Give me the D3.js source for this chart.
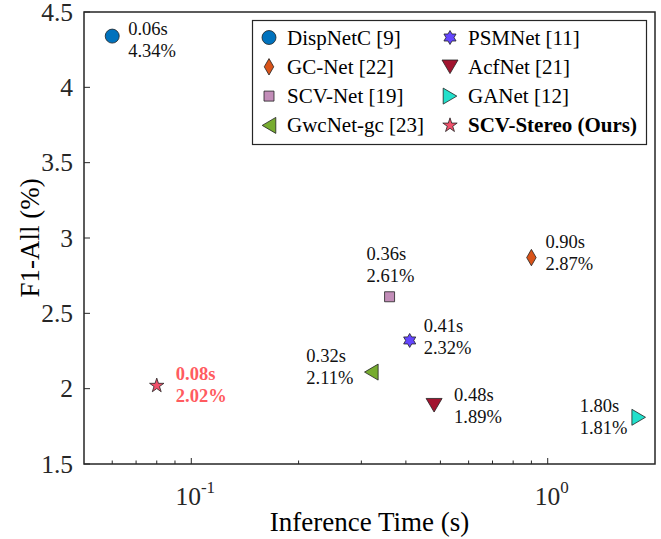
<!DOCTYPE html>
<html lang="en">
<head>
    <meta charset="UTF-8">
    <title>F1-All vs Inference Time</title>
    <style>
        body {
            margin: 0;
            padding: 0;
            background: #fff;
        }
        svg text {
            font-family: "Liberation Serif", "Times New Roman", serif;
        }
    </style>
</head>
<body>
    <div id="chart"></div>

    <script src="https://d3js.org/d3.v7.min.js"></script>
    <script>
        // data
        const methods = ["DispNetC [9]", "GC-Net [22]", "SCV-Net [19]", "GwcNet-gc [23]",
                         "PSMNet [11]", "AcfNet [21]", "GANet [12]", "SCV-Stereo (Ours)"];
        const times = [0.06, 0.90, 0.36, 0.32, 0.41, 0.48, 1.80, 0.08];
        const f1All = [4.34, 2.87, 2.61, 2.11, 2.32, 1.89, 1.81, 2.02];
        const yTicks = [1.5, 2, 2.5, 3, 3.5, 4, 4.5];
        const xMajorTicks = [0.1, 1];
        const xMajorExp = ["-1", "0"];
        const xMinorTicks = [0.06, 0.07, 0.08, 0.09, 0.2, 0.3, 0.4, 0.5, 0.6, 0.7, 0.8, 0.9];

        // marker styles
        const markerColors = ["#0072BD", "#D95319", "#C28DB8", "#77AC30", "#6446FF", "#A2142F", "#22E0CB", "#F0506A"];
        const markerShapes = ["circle", "diamond", "square", "triLeft", "hexagram", "triDown", "triRight", "star"];
        // text placement relative to each marker
        const labelPos = [
            { dx: 16, dy: -1 }, { dx: 14, dy: -10 }, { dx: -23, dy: -37 }, { dx: -65, dy: -10 },
            { dx: 14, dy: -8 }, { dx: 20, dy: -4 }, { dx: -59, dy: -5 }, { dx: 19, dy: -6 }
        ];

        const W = 661, H = 539;
        const mLeft = 84, mRight = 655, mTop = 12, mBottom = 464;
        const axisColor = "#262626";

        const svg = d3.select("#chart").append("svg")
            .attr("width", W)
            .attr("height", H);

        const x = d3.scaleLog().domain([0.05, 2]).range([mLeft, mRight]);
        const y = d3.scaleLinear().domain([1.5, 4.5]).range([mBottom, mTop]);

        // custom marker shapes, size = half extent in px
        function tri(dir) {
            return {
                draw(ctx, s) {
                    const a = s, b = s * 0.85;
                    if (dir === "down") { ctx.moveTo(-a, -b); ctx.lineTo(a, -b); ctx.lineTo(0, b); }
                    if (dir === "left") { ctx.moveTo(b, -a); ctx.lineTo(b, a); ctx.lineTo(-b, 0); }
                    if (dir === "right") { ctx.moveTo(-b, -a); ctx.lineTo(-b, a); ctx.lineTo(b, 0); }
                    ctx.closePath();
                }
            };
        }
        const hexagram = {
            draw(ctx, s) {
                const ri = s * 0.58;
                for (let i = 0; i < 12; i++) {
                    const r = i % 2 === 0 ? s : ri;
                    const ang = -Math.PI / 2 + i * Math.PI / 6;
                    const px = r * Math.cos(ang), py = r * Math.sin(ang);
                    if (i === 0) ctx.moveTo(px, py); else ctx.lineTo(px, py);
                }
                ctx.closePath();
            }
        };

        function symbolPath(shape) {
            switch (shape) {
                case "circle": return d3.symbol().type(d3.symbolCircle).size(Math.PI * 49)();
                case "diamond": return d3.symbol().type(d3.symbolDiamond).size(78)();
                case "square": return d3.symbol().type(d3.symbolSquare).size(100)();
                case "triLeft": return d3.symbol().type(tri("left")).size(8)();
                case "triRight": return d3.symbol().type(tri("right")).size(8)();
                case "triDown": return d3.symbol().type(tri("down")).size(8)();
                case "hexagram": return d3.symbol().type(hexagram).size(7)();
                case "star": return d3.symbol().type(d3.symbolStar).size(64)();
            }
        }

        // box
        svg.append("rect")
            .attr("x", mLeft).attr("y", mTop)
            .attr("width", mRight - mLeft).attr("height", mBottom - mTop)
            .attr("fill", "none")
            .attr("stroke", axisColor)
            .attr("stroke-width", 1.5);

        // y ticks (inward)
        svg.selectAll("line.ytick")
            .data(yTicks)
            .enter().append("line")
            .attr("class", "ytick")
            .attr("x1", mLeft).attr("x2", mLeft + 6)
            .attr("y1", d => y(d)).attr("y2", d => y(d))
            .attr("stroke", axisColor);

        svg.selectAll("text.ylab")
            .data(yTicks)
            .enter().append("text")
            .attr("class", "ylab")
            .attr("x", mLeft - 11)
            .attr("y", d => y(d) + 8.5)
            .attr("text-anchor", "end")
            .attr("font-size", "25.5px")
            .attr("fill", axisColor)
            .text(d => d);

        // x ticks
        svg.selectAll("line.xmajor")
            .data(xMajorTicks)
            .enter().append("line")
            .attr("class", "xmajor")
            .attr("x1", d => x(d)).attr("x2", d => x(d))
            .attr("y1", mBottom).attr("y2", mBottom - 6)
            .attr("stroke", axisColor);

        svg.selectAll("line.xminor")
            .data(xMinorTicks)
            .enter().append("line")
            .attr("class", "xminor")
            .attr("x1", d => x(d)).attr("x2", d => x(d))
            .attr("y1", mBottom).attr("y2", mBottom - 3.5)
            .attr("stroke", axisColor);

        const xl = svg.selectAll("text.xlab")
            .data(xMajorTicks)
            .enter().append("text")
            .attr("class", "xlab")
            .attr("x", d => x(d) + 4)
            .attr("y", 505)
            .attr("text-anchor", "middle")
            .attr("font-size", "25.5px")
            .attr("fill", axisColor);
        xl.append("tspan").text("10");
        xl.append("tspan")
            .attr("dy", -12)
            .attr("font-size", "17px")
            .text((d, i) => xMajorExp[i]);

        // axis titles
        svg.append("text")
            .attr("x", (mLeft + mRight) / 2)
            .attr("y", 531)
            .attr("text-anchor", "middle")
            .attr("font-size", "27px")
            .attr("fill", "#000")
            .text("Inference Time (s)");

        svg.append("text")
            .attr("transform", `translate(39, ${(mTop + mBottom) / 2}) rotate(-90)`)
            .attr("text-anchor", "middle")
            .attr("font-size", "27px")
            .attr("fill", "#000")
            .text("F1-All (%)");

        // points
        const pts = methods.map((m, i) => ({ name: m, t: times[i], f: f1All[i], i: i }));

        svg.selectAll("path.mark")
            .data(pts)
            .enter().append("path")
            .attr("class", "mark")
            .attr("d", d => symbolPath(markerShapes[d.i]))
            .attr("transform", d => `translate(${x(d.t)},${y(d.f)})`)
            .attr("fill", d => markerColors[d.i])
            .attr("stroke", "#222")
            .attr("stroke-width", 0.8);

        const ann = svg.selectAll("text.ann")
            .data(pts)
            .enter().append("text")
            .attr("class", "ann")
            .attr("font-size", "18.5px")
            .attr("font-weight", d => d.i === 7 ? "bold" : "normal")
            .attr("fill", d => d.i === 7 ? "#FF5B5F" : "#111");
        ann.append("tspan")
            .attr("x", d => x(d.t) + labelPos[d.i].dx)
            .attr("y", d => y(d.f) + labelPos[d.i].dy)
            .text(d => d.t.toFixed(2) + "s");
        ann.append("tspan")
            .attr("x", d => x(d.t) + labelPos[d.i].dx)
            .attr("y", d => y(d.f) + labelPos[d.i].dy + 22)
            .text(d => d.f.toFixed(2) + "%");

        // legend
        const lg = svg.append("g");
        lg.append("rect")
            .attr("x", 252.5).attr("y", 20.5)
            .attr("width", 394).attr("height", 124)
            .attr("fill", "#fff")
            .attr("stroke", axisColor)
            .attr("stroke-width", 1.2);

        const rowY = i => 37.5 + (i % 4) * 29.3;
        const colX = i => i < 4 ? 269 : 450;

        lg.selectAll("path")
            .data(pts)
            .enter().append("path")
            .attr("d", d => symbolPath(markerShapes[d.i]))
            .attr("transform", d => `translate(${colX(d.i)},${rowY(d.i)})`)
            .attr("fill", d => markerColors[d.i])
            .attr("stroke", "#222")
            .attr("stroke-width", 0.8);

        lg.selectAll("text")
            .data(pts)
            .enter().append("text")
            .attr("x", d => colX(d.i) + 18)
            .attr("y", d => rowY(d.i) + 7)
            .attr("font-size", "21px")
            .attr("font-weight", d => d.i === 7 ? "bold" : "normal")
            .attr("fill", "#000")
            .text(d => d.name);
    </script>
</body>
</html>
